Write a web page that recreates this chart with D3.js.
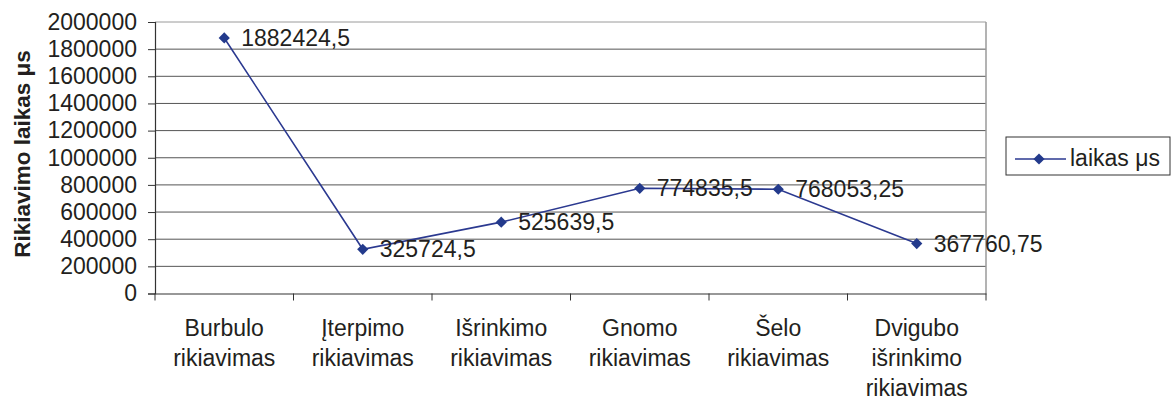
<!DOCTYPE html>
<html>
<head>
<meta charset="utf-8">
<script src="https://cdn.jsdelivr.net/npm/d3@7"></script>
<style>
  html, body { margin: 0; padding: 0; background: #fff; }
  svg { display: block; }
  text { font-family: "Liberation Sans", Arial, Helvetica, sans-serif; fill: #231f20; }
</style>
</head>
<body>
<svg id="chart" width="1176" height="401"></svg>
<script>
// Sorting algorithms and their measured run time (μs)
const categories = [
  ["Burbulo", "rikiavimas"],
  ["Įterpimo", "rikiavimas"],
  ["Išrinkimo", "rikiavimas"],
  ["Gnomo", "rikiavimas"],
  ["Šelo", "rikiavimas"],
  ["Dvigubo", "išrinkimo", "rikiavimas"]
];
const times = [1882424.5, 325724.5, 525639.5, 774835.5, 768053.25, 367760.75];
const yTicks = [0, 200000, 400000, 600000, 800000, 1000000, 1200000, 1400000, 1600000, 1800000, 2000000];
const seriesName = "laikas μs";
const yTitle = "Rikiavimo laikas μs";

const svg = d3.select("#chart");
const plot = { left: 155, right: 986, top: 22, bottom: 293.5 };
const lineColor = "#2b3990";
const markColor = "#233a8c";
const fmt = v => String(v).replace(".", ",");

const x = d3.scaleBand()
  .domain(d3.range(categories.length))
  .range([plot.left, plot.right]);
const y = d3.scaleLinear()
  .domain([0, 2000000])
  .range([plot.bottom, plot.top]);

// gridlines
svg.append("g")
  .selectAll("line")
  .data(yTicks.filter(t => t > 0))
  .join("line")
  .attr("x1", plot.left).attr("x2", plot.right)
  .attr("y1", d => y(d)).attr("y2", d => y(d))
  .attr("stroke", d => d === 2000000 ? "#9a9a9a" : "#555")
  .attr("stroke-width", 1);

// right border of the plot area
svg.append("line")
  .attr("x1", plot.right).attr("x2", plot.right)
  .attr("y1", plot.top).attr("y2", plot.bottom)
  .attr("stroke", "#9a9a9a").attr("stroke-width", 1.5);

// y axis
const yAxis = svg.append("g")
  .attr("transform", `translate(${plot.left},0)`)
  .call(d3.axisLeft(y).tickValues(yTicks).tickSize(7).tickPadding(11).tickFormat(d => String(d)));
yAxis.select(".domain").attr("stroke", "#333").attr("stroke-width", 1.2);
yAxis.selectAll(".tick line").attr("stroke", "#333");
yAxis.selectAll(".tick text")
  .attr("font-size", 23)
  .attr("fill", "#231f20")
  .attr("font-family", "Liberation Sans, Arial, sans-serif");

// x axis
const xAxis = svg.append("g")
  .attr("transform", `translate(0,${plot.bottom})`)
  .call(d3.axisBottom(x).tickSize(0).tickFormat(""));
xAxis.select(".domain").attr("stroke", "#333").attr("stroke-width", 1.2);
// category boundary ticks
svg.append("g")
  .selectAll("line")
  .data(d3.range(categories.length + 1))
  .join("line")
  .attr("x1", i => i < categories.length ? x(i) : x(i - 1) + x.bandwidth())
  .attr("x2", i => i < categories.length ? x(i) : x(i - 1) + x.bandwidth())
  .attr("y1", plot.bottom).attr("y2", plot.bottom + 7)
  .attr("stroke", "#333");

// category labels
const catG = svg.append("g")
  .selectAll("text")
  .data(categories)
  .join("text")
  .attr("text-anchor", "middle")
  .attr("font-size", 23);
catG.each(function(lines, i) {
  d3.select(this).selectAll("tspan")
    .data(lines)
    .join("tspan")
    .attr("x", x(i) + x.bandwidth() / 2)
    .attr("y", (d, j) => 336 + j * 30)
    .text(d => d);
});

// y axis title
svg.append("text")
  .attr("transform", "translate(30,154) rotate(-90)")
  .attr("text-anchor", "middle")
  .attr("font-size", 22.5)
  .attr("font-weight", "bold")
  .text(yTitle);

// series line
const cx = i => x(i) + x.bandwidth() / 2;
svg.append("path")
  .datum(times)
  .attr("fill", "none")
  .attr("stroke", lineColor)
  .attr("stroke-width", 1.6)
  .attr("d", d3.line().x((d, i) => cx(i)).y(d => y(d)));

// diamond markers
const diamond = d3.symbol().type(d3.symbolDiamond2).size(80);
svg.append("g")
  .selectAll("path")
  .data(times)
  .join("path")
  .attr("transform", (d, i) => `translate(${cx(i)},${y(d)})`)
  .attr("d", diamond)
  .attr("fill", markColor);

// value labels
svg.append("g")
  .selectAll("text")
  .data(times)
  .join("text")
  .attr("x", (d, i) => cx(i) + 17)
  .attr("y", d => y(d) + 8)
  .attr("font-size", 23)
  .text(d => fmt(d));

// legend
const lg = svg.append("g").attr("transform", "translate(1006,137)");
lg.append("rect")
  .attr("width", 164).attr("height", 38)
  .attr("fill", "#fff").attr("stroke", "#333").attr("stroke-width", 1);
lg.append("line")
  .attr("x1", 9).attr("x2", 60).attr("y1", 22).attr("y2", 22)
  .attr("stroke", lineColor).attr("stroke-width", 1.6);
lg.append("path")
  .attr("transform", "translate(33,22)")
  .attr("d", diamond)
  .attr("fill", markColor);
lg.append("text")
  .attr("x", 64).attr("y", 29)
  .attr("font-size", 23)
  .text(seriesName);
</script>
</body>
</html>
